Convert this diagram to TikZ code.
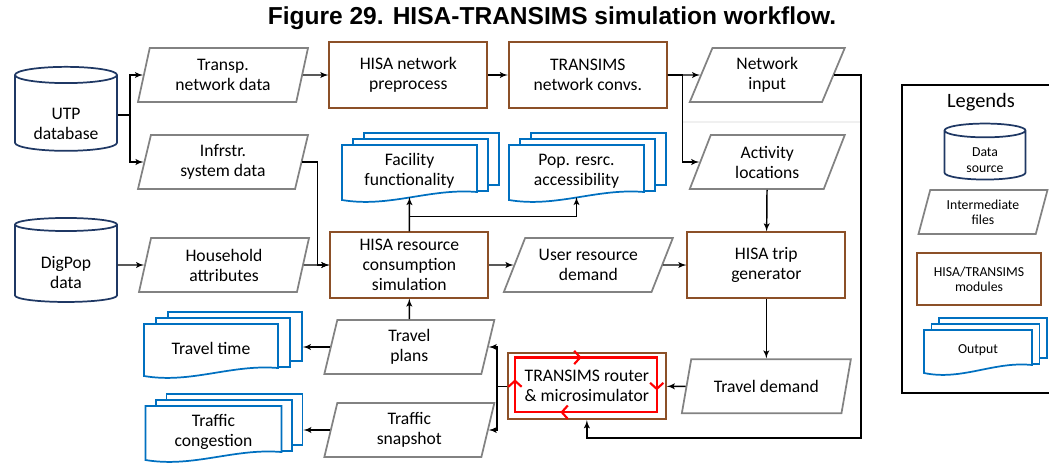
\documentclass[tikz,border=0pt]{standalone}
\usepackage{fontspec}
\setmainfont{Carlito}
\newfontfamily\titlefont{Liberation Sans}
\usepackage{tikz}
\usetikzlibrary{shapes.geometric, arrows, arrows.meta, calc, decorations.markings}

\definecolor{srcblue}{RGB}{31,56,100}
\definecolor{filegray}{RGB}{130,130,130}
\definecolor{modbrown}{RGB}{140,80,40}
\definecolor{outblue}{RGB}{0,112,192}

\newcommand{\legfont}{\fontsize{10.3}{11.5}\selectfont}

\tikzstyle{datasrc} =
[cylinder, shape border rotate=90, aspect=0.22, minimum width=76.5pt,
minimum height=63pt, draw=srcblue, line width=1.3pt, align=center]
\tikzstyle{srctext} = [align=center]
\tikzstyle{datafile} =
[trapezium, trapezium left angle=71, trapezium right angle=109,
trapezium stretches body, minimum width=127.5pt, minimum height=40.5pt,
inner sep=1pt, draw=filegray, line width=1.3pt, align=center]
\tikzstyle{datafilex} =
[datafile, trapezium left angle=58, trapezium right angle=122,
minimum width=126.75pt]
\tikzstyle{module} =
[rectangle, minimum width=118.5pt, minimum height=49pt,
draw=modbrown, line width=1.3pt, align=center]
\tikzstyle{docbox} =
[rectangle, inner sep=0pt, draw=outblue, fill=white, line width=1.3pt]
\tikzstyle{docspot} = [rectangle, inner sep=0pt, outer sep=0pt]
\tikzstyle{docline} = [draw=outblue, fill=white, line width=1.3pt]
\tikzstyle{doctext} = [align=center]
\tikzstyle{line} = [draw, -latex', line width=1.1pt]
\tikzset{redloop/.style={draw=red, line width=1.6pt, line cap=rect,
  postaction={decorate}, decoration={markings, mark=at position #1 with
  {\arrow[red, line width=1.6pt, line cap=round]{Straight Barb[length=4.5pt,width=10pt]}}}}}

% stacked output pages: name, position, width, height, layer shift, text
\newcommand{\outdoc}[6]{%
  \node [docbox, minimum width=#3, minimum height=#4] (#1b)
   at ($(#2)+(2*#5,-12)$) {};
  \node [docbox, minimum width=#3, minimum height=#4] (#1m)
   at ($(#2)+(#5,-6)$) {};
  \node [docspot, minimum width=#3, minimum height=#4] (#1) at (#2) {};
  \filldraw [docline] (#1.north west) -- ($(#1.south west)+(0,3)$)
   .. controls ($(#1.south west)!0.35!(#1.south east)+(0,11)$)
   and ($(#1.south west)!0.65!(#1.south east)+(0,-9)$)
   .. ($(#1.south east)+(0,-5)$) -- (#1.north east) -- cycle;
  \node [doctext] at (#1) {#6};
}

\begin{document}
\begin{tikzpicture}[x=0.75pt, y=-0.75pt, font=\fontsize{13.2}{15}\selectfont]
  \useasboundingbox (0,0) rectangle (1049,464);
  \node [font=\titlefont\bfseries\fontsize{18.4}{22}\selectfont] (title)
   at (552,18) {Figure 29. HISA-TRANSIMS simulation workflow.};
  % data sources and first files
  \node [datasrc] (utp) at (66,115) {\phantom{UTP}\\\phantom{database}};
  \node [srctext] at ($(utp)+(0,9)$) {UTP\\database};
  \node [datasrc] (digpop) at (66,265) {\phantom{DigPop}\\\phantom{data}};
  \node [srctext] at ($(digpop)+(0,8)$) {DigPop\\data};
  \node [datafile] (transp) at (223,75) {Transp.\\network data};
  \node [datafile, below of=transp, node distance=65.25pt] (infra)
   {Infrstr.\\system data};
  \node [datafile, right of=digpop, node distance=118.5pt] (house)
   {Household\\attributes};
  % network chain
  \node [module, right of=transp, node distance=139pt] (prep)
   {HISA network\\preprocess};
  \node [module, right of=prep, node distance=134.6pt] (convs)
   {TRANSIMS\\network convs.};
  \node [datafilex, right of=convs, node distance=134.6pt,
   minimum width=116.25pt, trapezium left angle=59,
   trapezium right angle=121] (netin) {Network\\input};
  \node [datafilex, below of=netin, node distance=65.25pt,
   minimum width=116.25pt, trapezium left angle=59,
   trapezium right angle=121] (activ) {Activity\\locations};
  % simulation row
  \node [module, right of=house, node distance=139pt] (hisares)
   {HISA resource\\consumption\\simulation};
  \node [datafilex, right of=hisares, node distance=134.25pt] (userdem)
   {User resource\\demand};
  \node [module, right of=userdem, node distance=133.5pt] (tripgen)
   {HISA trip\\generator};
  \node [datafilex, below of=tripgen, node distance=91pt] (tdemand)
   {Travel demand};
  \node [module, left of=tdemand, node distance=134.6pt,
   minimum height=49.5pt] (router)
   {TRANSIMS router\\\& microsimulator};
  \node [datafile, below of=hisares, node distance=61.5pt] (tplans)
   {Travel\\plans};
  \node [datafile, below of=tplans, node distance=62.25pt] (snap)
   {Traffic\\snapshot};
  % outputs
  \outdoc{facil}{409.5,171}{101.25pt}{39pt}{11}{Facility\\functionality}
  \outdoc{popacc}{576.5,171}{101.25pt}{39pt}{11}{Pop. resrc.\\accessibility}
  \outdoc{ttime}{211,348.5}{100.5pt}{36.75pt}{12}{Travel time}
  \outdoc{tcong}{213.5,431.5}{102pt}{38.25pt}{10.5}{Traffic\\congestion}
  % loop inside the router
  \coordinate (rl1) at ($(router.north west)+(8,5)$);
  \coordinate (rl2) at ($(router.north east)+(-10,5)$);
  \coordinate (rl3) at ($(router.south east)+(-10,-8)$);
  \coordinate (rl4) at ($(router.south west)+(8,-8)$);
  \draw [redloop=0.47] (rl1) -- (rl2);
  \draw [redloop=0.6] (rl2) -- (rl3);
  \draw [redloop=0.68] (rl3) -- (rl4);
  \draw [redloop=0.6] (rl4) -- (rl1);
  \draw [gray!12, line width=1.5pt] (682,122) -- (860,122);
  % edges
  \path [line] (utp.east) -- ++(12,0) |- (transp);
  \path [line] (utp.east) -- ++(12,0) |- (infra);
  \path [line] (digpop) -- (house);
  \path [line] (transp) -- (prep);
  \path [line] (prep) -- (convs);
  \path [line] (convs) -- (netin);
  \path [line] (convs.east) -- ++(15,0) |- (activ);
  \coordinate (fb) at (861,438);
  \path [line] (netin.east) -| (fb) -| (router.south);
  \path [line] (infra.east) -| ($(hisares.west)+(-12,0)$) -- (hisares.west);
  \path [line] (house) -- (hisares);
  \path [line] (hisares.north) -- (facil.south);
  \path [line] (hisares.north) -- ++(0,-15) -| (popacc.south);
  \path [line] (hisares) -- (userdem);
  \path [line] (userdem) -- (tripgen);
  \path [line] (activ) -- (tripgen);
  \path [line] (tripgen) -- (tdemand);
  \path [line] (tdemand) -- (router);
  \path [line] (tplans) -- (hisares);
  \path [line] (router.west) -- ++(-10,0) |- (tplans.east);
  \path [line] (router.west) -- ++(-10,0) |- (snap.east);
  \path [line] (tplans.west) -- (tplans.west -| ttimeb.east);
  \path [line] (snap.west) -- (snap.west -| tcongb.east);
  % legend
  \draw [line width=2.2pt] (902,85) rectangle (1064,393);
  \node [font=\fontsize{15.3}{18}\selectfont] (legtitle) at (981,102)
   {Legends};
  \node [datasrc, minimum width=60.75pt, minimum height=42pt,
   aspect=0.3, font=\legfont] (legsrc) at (985,157)
   {\phantom{Data}\\\phantom{source}};
  \node [srctext, font=\legfont] at ($(legsrc)+(0,3)$) {Data\\source};
  \node [datafile, minimum width=96.75pt, minimum height=33pt,
   trapezium left angle=67, trapezium right angle=113, font=\legfont]
   (legfile) at (983,212) {Intermediate\\files};
  \node [module, minimum width=93pt, minimum height=39pt, font=\legfont]
   (legmod) at (979,279) {HISA/TRANSIMS\\modules};
  \outdoc{legout}{978,350}{81pt}{30pt}{7.5}{\legfont Output}
\end{tikzpicture}
\end{document}
